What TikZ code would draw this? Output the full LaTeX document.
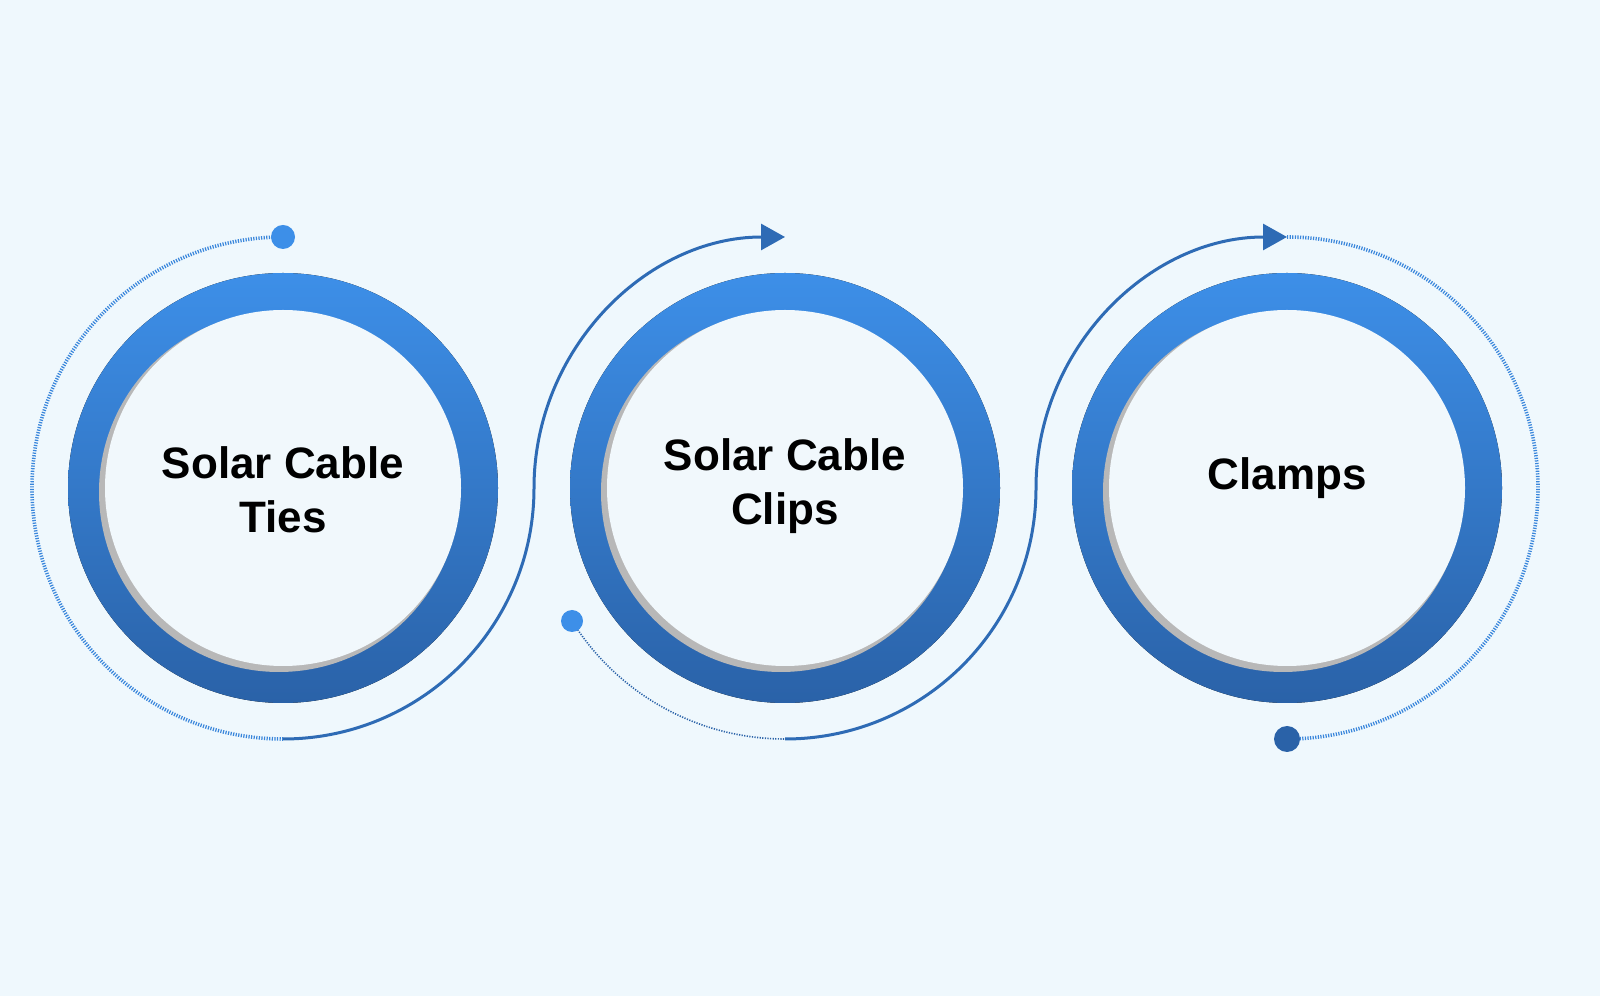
\documentclass[tikz,border=0pt]{standalone}
\usepackage{fontspec}
\setmainfont{Liberation Sans}
\usetikzlibrary{arrows.meta}
\definecolor{bgblue}{HTML}{EFF8FD}
\definecolor{ringtop}{HTML}{3D8FE8}
\definecolor{ringbot}{HTML}{2A62A8}
\definecolor{diskfill}{HTML}{F1F8FC}
\tikzset{
  ring/.style={top color=ringtop,bottom color=ringbot,draw=none},
  disk/.style={fill=diskfill,draw=none},
  shade/.style={fill=black!28,draw=none},
  flow/.style={line width=1.5pt,draw=ringbot!80!ringtop},
  trail/.style={line width=1.8pt,draw=ringtop!80!ringbot,dash pattern=on 0.6pt off 0.7pt},
  label/.style={font=\bfseries\fontsize{22}{27}\selectfont,align=center,text=black}
}
\begin{document}
\begin{tikzpicture}[x=0.5pt,y=0.5pt]
\fill[bgblue] (0,0) rectangle (1600,996);
\useasboundingbox (0,0) rectangle (1600,996);
% arcs behind circles
\draw[trail] (283,759) arc (90:270:251); %left trail
\draw[trail,line width=0.8pt,draw=ringbot] (572,375) arc (212:270:251);
\draw[trail] (1287,759) arc (90:-90:251); %right trail
\draw[flow,-{Triangle[length=12pt,width=13pt]}] (283,257) arc (-90:0:251) arc (180:90:251);
\draw[flow,-{Triangle[length=12pt,width=13pt]}] (785,257) arc (-90:0:251) arc (180:90:251);
\fill[ringtop] (283,759) circle (12);
\fill[ringtop] (572,375) circle (11);
\fill[ringbot] (1287,257) circle (13);

\begin{scope}[shift={(283,508)}] %TIES
\fill[ring] (0,0) circle (215);
\fill[shade] (-4,-4) circle (180);
\fill[disk] (0,0) circle (178);
\node[label] (ties) at (0,-2) {Solar Cable\\Ties};
\end{scope}
\begin{scope}[shift={(785,508)}] %CLIPS
\fill[ring] (0,0) circle (215);
\fill[shade] (-4,-4) circle (180);
\fill[disk] (0,0) circle (178);
\node[label] (clips) at (0,2) {Solar Cable\\Clips};
\end{scope}
\begin{scope}[shift={(1287,508)}] %CLAMPS
\fill[ring] (0,0) circle (215);
\fill[shade] (-4,-4) circle (180);
\fill[disk] (0,0) circle (178);
\node[label] (clamps) at (0,10) {Clamps};
\end{scope}
\end{tikzpicture}
\end{document}
